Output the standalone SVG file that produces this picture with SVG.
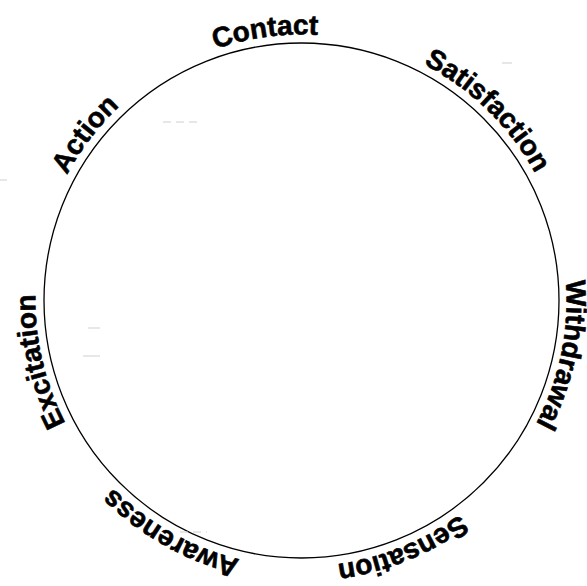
<svg xmlns="http://www.w3.org/2000/svg" xmlns:xlink="http://www.w3.org/1999/xlink" width="587" height="586" viewBox="0 0 587 586">
<style>
.lbl{font-family:"Liberation Sans","DejaVu Sans",sans-serif;font-weight:bold;font-size:28px;fill:#000;stroke:#000;stroke-width:0.6;stroke-linejoin:round;}
.ring{fill:none;stroke:#000;stroke-width:1.3;}
.spec{stroke:#cfcfcf;stroke-width:1;}
</style>
<defs>
<path id="tp" d="M301.5,566.5 A266,266 0 1 1 301.5,34.5 A266,266 0 1 1 301.5,566.5"/>
</defs>
<rect width="587" height="586" fill="#fff"/>
<g id="connectors">
<circle class="ring" cx="301.5" cy="300.5" r="257.5"/>
</g>
<g id="specks">
<line class="spec" x1="502" y1="63" x2="512" y2="63"/>
<line class="spec" x1="163" y1="122" x2="200" y2="122" stroke-dasharray="8 5"/>
<line class="spec" x1="88" y1="328" x2="100" y2="328"/>
<line class="spec" x1="83" y1="356" x2="100" y2="356"/>
<line class="spec" x1="0" y1="180" x2="7" y2="180"/>
<line class="spec" x1="180" y1="532" x2="207" y2="532" stroke-dasharray="8 5"/>
</g>
<g id="node-contact"><text class="lbl" text-anchor="middle"><textPath xlink:href="#tp" href="#tp" startOffset="47.86%">Contact</textPath></text></g>
<g id="node-satisfaction"><text class="lbl" text-anchor="middle"><textPath xlink:href="#tp" href="#tp" startOffset="62.33%">Satisfaction</textPath></text></g>
<g id="node-withdrawal"><text class="lbl" text-anchor="middle" dy="1"><textPath xlink:href="#tp" href="#tp" startOffset="78.25%">Withdrawal</textPath></text></g>
<g id="node-sensation"><text class="lbl" text-anchor="middle"><textPath xlink:href="#tp" href="#tp" startOffset="93.86%">Sensation</textPath></text></g>
<g id="node-awareness"><text class="lbl" text-anchor="middle"><textPath xlink:href="#tp" href="#tp" startOffset="8.14%">Awareness</textPath></text></g>
<g id="node-excitation"><text class="lbl" text-anchor="middle"><textPath xlink:href="#tp" href="#tp" startOffset="21.36%">Excitation</textPath></text></g>
<g id="node-action"><text class="lbl" text-anchor="middle"><textPath xlink:href="#tp" href="#tp" startOffset="35.42%">Action</textPath></text></g>
</svg>
